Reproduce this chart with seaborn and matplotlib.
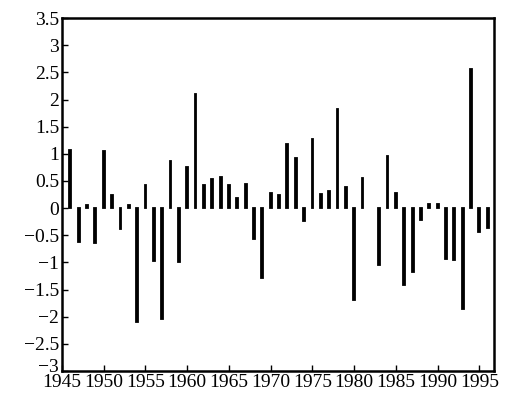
import matplotlib
matplotlib.use('Agg')
import matplotlib.pyplot as plt
import matplotlib.transforms as mtransforms
import seaborn as sns
import pandas as pd

# anomaly per year
years = list(range(1946, 1997))
values = [1.07, -0.62, 0.05, -0.64, 1.05, 0.25, -0.39, 0.05, -2.10, 0.43,
          -0.98, -2.05, 0.87, -1.00, 0.75, 2.10, 0.42, 0.53, 0.57, 0.42,
          0.19, 0.45, -0.56, -1.29, 0.28, 0.24, 1.18, 0.93, -0.24, 1.28,
          0.26, 0.31, 1.82, 0.38, -1.69, 0.55, 0.00, -1.05, 0.96, 0.28,
          -1.42, -1.17, -0.22, 0.07, 0.07, -0.94, -0.96, -1.85, 2.57, -0.44,
          -0.37]
x_ticks = list(range(1945, 2000, 5))
y_ticks = [-3, -2.5, -2, -1.5, -1, -0.5, 0, 0.5, 1, 1.5, 2, 2.5, 3, 3.5]

df = pd.DataFrame({'year': years, 'value': values})

sns.set_style('ticks')
plt.rcParams['font.family'] = ['Liberation Serif', 'DejaVu Serif']

fig = plt.figure(figsize=(5.09, 3.93), dpi=100)
ax = fig.add_axes([0.1218, 0.056, 0.8487, 0.898])

sns.barplot(data=df, x='year', y='value', native_scale=True,
            color='black', width=0.22, saturation=1,
            edgecolor='black', linewidth=1.3, ax=ax)

# a zero year leaves no mark in the reference
for p in ax.patches:
    if p.get_height() == 0:
        p.set_visible(False)

ax.set_xlim(1945.25, 1996.75)
ax.set_ylim(-3, 3.5)
ax.set_xticks(x_ticks)
ax.set_xticklabels([str(t) for t in x_ticks])
ax.set_yticks(y_ticks)
ax.set_yticklabels([('%g' % t).replace('-', '\u2212') for t in y_ticks])
ax.set_xlabel('')
ax.set_ylabel('')

for s in ax.spines.values():
    s.set_visible(True)
    s.set_linewidth(1.8)
    s.set_color('black')

ax.tick_params(axis='both', direction='in', length=4, width=1,
               labelsize=14, colors='black', pad=2)
ax.tick_params(top=False, right=False)

# lift the lowest y label a little, as in the reference
lab = ax.get_yticklabels()[0]
lab.set_transform(lab.get_transform() +
                  mtransforms.ScaledTranslation(0, 4 / 72, fig.dpi_scale_trans))

fig.savefig('out.png', dpi=100)
